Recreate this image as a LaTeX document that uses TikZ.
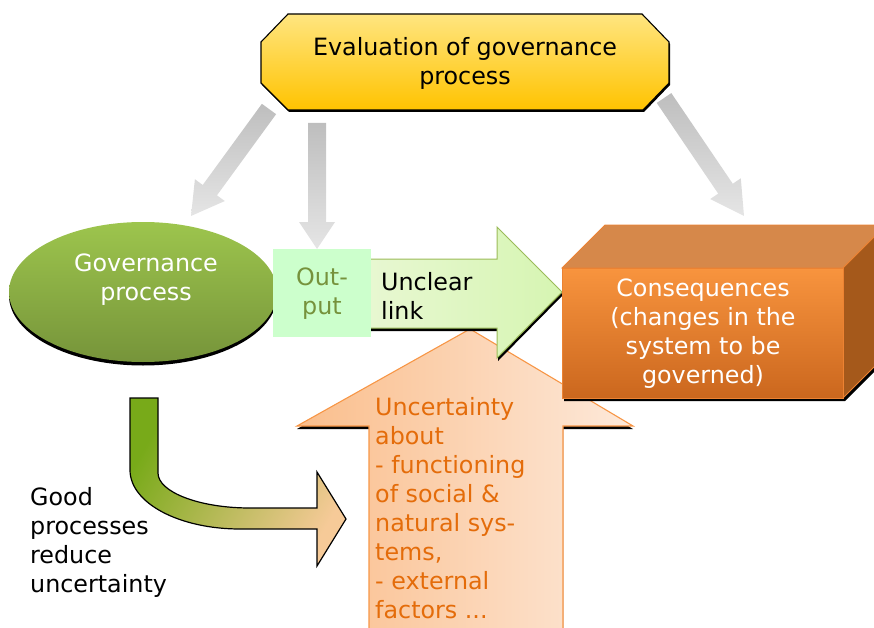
\documentclass[tikz,border=0pt]{standalone}
\usepackage{fontspec}
\setmainfont{DejaVu Sans}
\usetikzlibrary{calc}
\definecolor{octtop}{RGB}{255,229,128}
\definecolor{octbot}{RGB}{255,195,0}
\definecolor{elltop}{RGB}{157,197,77}
\definecolor{ellbot}{RGB}{118,148,58}
\definecolor{graytail}{RGB}{190,190,190}
\definecolor{grayhead}{RGB}{229,229,229}
\definecolor{linkleft}{RGB}{234,248,214}
\definecolor{linkright}{RGB}{214,245,178}
\definecolor{linkedge}{RGB}{155,187,89}
\definecolor{outfill}{RGB}{204,255,204}
\definecolor{outtext}{RGB}{118,146,60}
\definecolor{cubetop}{RGB}{248,148,62}
\definecolor{cubebot}{RGB}{203,103,30}
\definecolor{cubelid}{RGB}{214,136,74}
\definecolor{cubeside}{RGB}{165,89,27}
\definecolor{cubeedge}{RGB}{236,130,50}
\definecolor{uncleft}{RGB}{250,190,140}
\definecolor{uncright}{RGB}{253,233,218}
\definecolor{uncedge}{RGB}{247,150,70}
\definecolor{unctext}{RGB}{228,108,10}
\definecolor{curvegreen}{RGB}{120,170,25}
\definecolor{curvepeach}{RGB}{246,202,152}
\newcommand\grayblockarrow[5]{%
  \coordinate (hb) at ($(#2)!#5pt!(#1)$);
  \path[grayarrow] ($(#1)!#3pt!90:(#2)$) -- ($(hb)!#3pt!90:(#2)$) -- ($(hb)!#4pt!90:(#2)$)
    -- (#2) -- ($(hb)!#4pt!-90:(#2)$) -- ($(hb)!#3pt!-90:(#2)$) -- ($(#1)!#3pt!-90:(#2)$) -- cycle;
}
\begin{document}
\begin{tikzpicture}[x=1pt,y=-1pt,
  every node/.style={inner sep=0pt, font=\fontsize{23.8}{29}\selectfont},
  grayarrow/.style={top color=graytail, bottom color=grayhead, draw=none},
  shadowfill/.style={fill=black, draw=none}]
\useasboundingbox (0,0) rectangle (874,628);

% gray arrows from the evaluation box
\coordinate (gl0) at (269,109); \coordinate (gl1) at (191,216);
\coordinate (gm0) at (317,123); \coordinate (gm1) at (317,249);
\coordinate (gr0) at (664,98);  \coordinate (gr1) at (744,216);
\grayblockarrow{gl0}{gl1}{8.8}{18.5}{32}
\grayblockarrow{gm0}{gm1}{9}{18}{27}
\grayblockarrow{gr0}{gr1}{8.8}{18.5}{33}

% evaluation octagon
\fill[shadowfill] (289,16) -- (643,16) -- (670,44) -- (670,85) -- (644,112) -- (289,112) -- (262,85) -- (262,44) -- cycle;
\path[top color=octtop, bottom color=octbot, draw=black, line width=1.1pt]
  (288,14) -- (642,14) -- (669,42) -- (669,83) -- (643,110) -- (288,110) -- (261,83) -- (261,42) -- cycle;

% uncertainty up-arrow
\fill[shadowfill] (470,332) -- (633,429) -- (563,429) -- (563,640) -- (369,640) -- (369,429) -- (297,429) -- cycle;
\path[left color=uncleft, right color=uncright, draw=uncedge, line width=1.1pt]
  (470,329) -- (633,426) -- (563,426) -- (563,640) -- (369,640) -- (369,426) -- (297,426) -- cycle;

% governance ellipse
\fill[shadowfill] (143,295.5) ellipse [x radius=134pt, y radius=70pt];
\path[top color=elltop, bottom color=ellbot] (143,292) ellipse [x radius=134pt, y radius=70pt];

% unclear link arrow
\fill[shadowfill] (340,262) -- (498,262) -- (498,230) -- (563,295) -- (498,361) -- (498,331) -- (340,331) -- cycle;
\path[left color=linkleft, right color=linkright, draw=linkedge, line width=1pt]
  (340,259) -- (497,259) -- (497,227) -- (562,292) -- (497,358) -- (497,328) -- (340,328) -- cycle;

% output box
\fill[outfill] (273,249) rectangle (371,337);

% consequences cube
\fill[shadowfill] (564,271) -- (888,228) -- (888,358) -- (845,401) -- (564,401) -- cycle;
\path[fill=cubelid, draw=cubeedge, line width=0.8pt] (562,268) -- (605,225) -- (886,225) -- (843,268) -- cycle;
\path[fill=cubeside, draw=cubeedge, line width=0.8pt] (843,268) -- (886,225) -- (886,355) -- (843,398) -- cycle;
\path[top color=cubetop, bottom color=cubebot, draw=cubeedge, line width=0.8pt] (562,268) rectangle (843,398);

% curved arrow
\path[left color=curvegreen, right color=curvepeach, shading angle=60, draw=black, line width=1.2pt]
  (130,398) -- (130,470) .. controls (130,503) and (179,529) .. (240,529) -- (317,529) -- (317,566)
  -- (346,519) -- (317,472) -- (317,508) -- (250,508) .. controls (199,508) and (158,492) .. (158,473)
  -- (158,398) -- cycle;

% texts
\node[align=center] (evaltext) at (465,63) {Evaluation of governance\\process};
\node[align=center, text=white] (govtext) at (146,280) {Governance\\process};
\node[align=center, text=outtext] (outtxt) at (322,293.5) {Out-\\put};
\node[align=left, anchor=west] (linktext) at (381,295.5) {Unclear\\link};
\node[align=center, text=white] (constext) at (703,334) {Consequences\\(changes in the\\system to be\\governed)};
\node[align=left, anchor=west, text=unctext] (unctxt) at (375,508.5) {Uncertainty\\about\\- functioning\\of social \&\\natural sys-\\tems,\\- external\\factors ...};
\node[align=left, anchor=west] (goodtext) at (30,542.5) {Good\\processes\\reduce\\uncertainty};
\end{tikzpicture}
\end{document}
